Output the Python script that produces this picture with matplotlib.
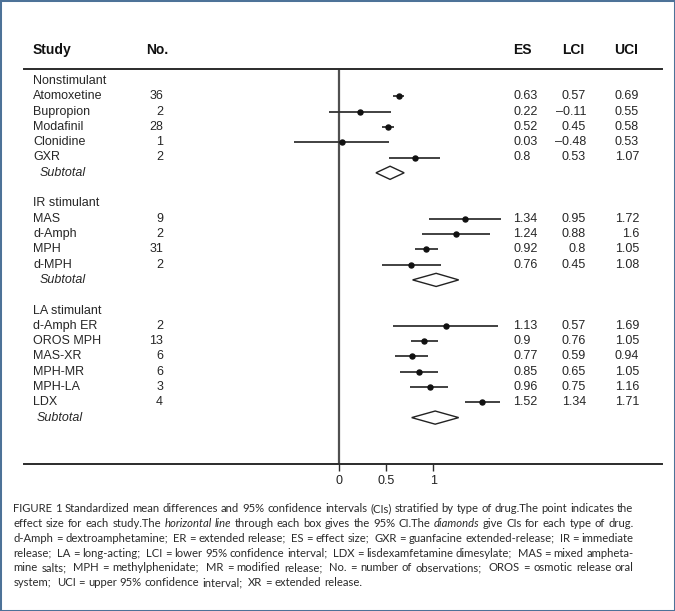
import matplotlib
matplotlib.use("Agg")
import matplotlib.pyplot as plt
from matplotlib.patches import Polygon, Rectangle
import matplotlib.transforms as mtransforms

# =========================
# DATA
# =========================

group_names = ["Nonstimulant", "IR stimulant", "LA stimulant"]
group_sizes = [5, 4, 6]

study_names = ["Atomoxetine", "Bupropion", "Modafinil", "Clonidine", "GXR",
               "MAS", "d-Amph", "MPH", "d-MPH",
               "d-Amph ER", "OROS MPH", "MAS-XR", "MPH-MR", "MPH-LA", "LDX"]
study_n = [36, 2, 28, 1, 2,
           9, 2, 31, 2,
           2, 13, 6, 6, 3, 4]
es = [0.63, 0.22, 0.52, 0.03, 0.8,
      1.34, 1.24, 0.92, 0.76,
      1.13, 0.9, 0.77, 0.85, 0.96, 1.52]
lci = [0.57, -0.11, 0.45, -0.48, 0.53,
       0.95, 0.88, 0.8, 0.45,
       0.57, 0.76, 0.59, 0.65, 0.75, 1.34]
uci = [0.69, 0.55, 0.58, 0.53, 1.07,
       1.72, 1.6, 1.05, 1.08,
       1.69, 1.05, 0.94, 1.05, 1.16, 1.71]

# subtotal diamonds
sub_es = [0.54, 1.03, 1.02]
sub_lci = [0.39, 0.78, 0.77]
sub_uci = [0.69, 1.27, 1.27]

x_ticks = [0, 0.5, 1]
x_ticklabels = ["0", "0.5", "1"]

caption_lines = [
    [("FIGURE 1 Standardized mean differences and 95% confidence intervals (CIs) stratified by type of drug.The point indicates the", False)],
    [("effect size for each study.The", False), ("horizontal line", True),
     ("through each box gives the 95% CI.The", False), ("diamonds", True),
     ("give CIs for each type of drug.", False)],
    [("d-Amph = dextroamphetamine;  ER = extended release;  ES = effect size;  GXR = guanfacine extended-release;  IR = immediate", False)],
    [("release;  LA = long-acting;  LCI = lower 95% confidence interval;  LDX = lisdexamfetamine dimesylate;  MAS = mixed ampheta-", False)],
    [("mine salts;  MPH = methylphenidate;  MR = modified release;  No. = number of observations;  OROS = osmotic release oral", False)],
    [("system;  UCI = upper 95% confidence interval;  XR = extended release.", False)],
]

# =========================
# LAYOUT
# =========================

W, H = 675, 611
fig = plt.figure(figsize=(W / 100, H / 100), dpi=100)
plt.rcParams['font.family'] = ['Liberation Sans', 'DejaVu Sans']

x0_px, px_per_unit = 339.3, 94.0       # zero line and scale of the forest axis
row0_px, row_px = 81.0, 15.3           # first row centre and row pitch
ax_left, ax_right, ax_top, ax_bot = 24, 662, 69, 464

ax = fig.add_axes([ax_left / W, 1 - ax_bot / H, (ax_right - ax_left) / W, (ax_bot - ax_top) / H])
ax.set_xlim((ax_left - x0_px) / px_per_unit, (ax_right - x0_px) / px_per_unit)
ax.set_ylim((ax_bot - row0_px) / row_px, (ax_top - row0_px) / row_px)

for s in ["left", "right"]:
    ax.spines[s].set_visible(False)
for s in ["top", "bottom"]:
    ax.spines[s].set_color("#2b2b2b")
    ax.spines[s].set_linewidth(1.4)
ax.set_yticks([])
ax.set_xticks(x_ticks)
ax.set_xticklabels(x_ticklabels)
ax.tick_params(axis="x", direction="out", length=5, width=1, color="#2b2b2b",
               labelsize=9, pad=3, labelcolor="#222222")
ax.axvline(0, color="#505050", lw=1.6, zorder=1)

# text columns: x in figure pixels, y in row units
tr = mtransforms.blended_transform_factory(fig.transFigure, ax.transData)
col_study, col_no_hdr, col_no = 33, 146, 163
col_es, col_lci, col_uci = 513, 586, 639
col_lci_hdr, col_uci_hdr = 562, 614
txt = dict(transform=tr, fontsize=9, color="#262626", va="center", clip_on=False)

def fmt(v):
    return str(v).replace("-", "\u2013")

hdr = dict(transform=tr, fontsize=10, fontweight="bold", color="#111111", va="center", clip_on=False)
ax.text(col_study / W, -2, "Study", **hdr)
ax.text(col_no_hdr / W, -2, "No.", **hdr)
ax.text(col_es / W, -2, "ES", **hdr)
ax.text(col_lci_hdr / W, -2, "LCI", **hdr)
ax.text(col_uci_hdr / W, -2, "UCI", **hdr)

row = 0
k = 0
sub_indent = [40, 40, 37]
for g, gname in enumerate(group_names):
    ax.text(col_study / W, row, gname, **txt)
    row += 1
    for _ in range(group_sizes[g]):
        ax.text(col_study / W, row, study_names[k], **txt)
        ax.text(col_no / W, row, str(study_n[k]), ha="right", **txt)
        ax.text(col_es / W, row, fmt(es[k]), **txt)
        ax.text(col_lci / W, row, fmt(lci[k]), ha="right", **txt)
        ax.text(col_uci / W, row, fmt(uci[k]), ha="right", **txt)
        ax.hlines(row, lci[k], uci[k], color="#333333", lw=1.3, zorder=2)
        ax.plot(es[k], row, "o", ms=3.6, color="#111111", zorder=3)
        row += 1
        k += 1
    ax.text(sub_indent[g] / W, row, "Subtotal", style="italic", **txt)
    h = 0.43
    ax.add_patch(Polygon([(sub_lci[g], row), (sub_es[g], row - h), (sub_uci[g], row), (sub_es[g], row + h)],
                         closed=True, facecolor="white", edgecolor="#222222", lw=1.0, zorder=3))
    row += 2

# =========================
# CAPTION (justified, mixed italic)
# =========================

cap_font = ["Lato", "DejaVu Sans"]
cap_size = 8.0
renderer = fig.canvas.get_renderer()

def width_px(s, italic, size):
    t = fig.text(0, 0, s + "x", fontsize=size, family=cap_font, style="italic" if italic else "normal")
    t2 = fig.text(0, 0, "x", fontsize=size, family=cap_font, style="italic" if italic else "normal")
    w = t.get_window_extent(renderer).width - t2.get_window_extent(renderer).width
    t.remove(); t2.remove()
    return w

def tokens(line):
    out = []
    for seg, it in line:
        words = seg.split(" ")
        i = 0
        while i < len(words):
            w = words[i]
            gap = 1
            j = i + 1
            while j < len(words) and words[j] == "":
                gap += 1
                j += 1
            if w != "":
                out.append((w, it, gap))
            i = j
    return out

# fit font so the first line spans the measured width
cap_left, cap_right = 13.5, 633.5
line_w = width_px(caption_lines[0][0][0], False, cap_size)
cap_size = cap_size * (cap_right - cap_left) / line_w

space_w = width_px(" ", False, cap_size)
cap_y0, cap_dy = 512.5, 14.7
for li, line in enumerate(caption_lines):
    toks = tokens(line)
    widths = [width_px(w, it, cap_size) for w, it, _ in toks]
    gaps = [g for _, _, g in toks[:-1]]
    if li < len(caption_lines) - 1:
        unit = ((cap_right - cap_left) - sum(widths)) / max(sum(gaps), 1)
    else:
        unit = space_w
    x = cap_left
    y = cap_y0 + li * cap_dy
    for i, (w, it, g) in enumerate(toks):
        fig.text(x / W, 1 - y / H, w, fontsize=cap_size, family=cap_font,
                 style="italic" if it else "normal", color="#2a2a2a", va="baseline")
        x += widths[i] + (unit * g if i < len(gaps) else 0)

# frame around the figure
fig.patches.append(Rectangle((0, 0), 1, 1, transform=fig.transFigure, fill=False,
                             edgecolor="#4d7298", lw=2.2))

fig.savefig("out.png", dpi=100)
